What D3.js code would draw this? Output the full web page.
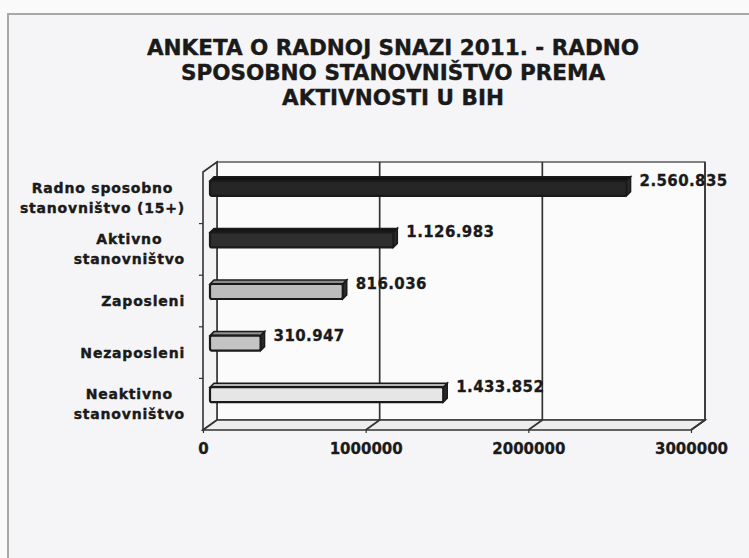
<!DOCTYPE html>
<html>
<head>
<meta charset="utf-8">
<script src="https://cdn.jsdelivr.net/npm/d3@7"></script>
<style>
  body { margin: 0; background: #fafafa; }
  text { font-family: "DejaVu Sans", Arial, sans-serif; font-weight: bold; fill: #1a1a1a; }
</style>
</head>
<body>
<div id="chart"></div>
<script>
// data
var categories = ["Radno sposobno\nstanovništvo (15+)", "Aktivno\nstanovništvo", "Zaposleni", "Nezaposleni", "Neaktivno\nstanovništvo"];
var values = [2560835, 1126983, 816036, 310947, 1433852];
var valueLabels = ["2.560.835", "1.126.983", "816.036", "310.947", "1.433.852"];
var ticks = [0, 1000000, 2000000, 3000000];
var titleLines = ["ANKETA O RADNOJ SNAZI 2011. - RADNO", "SPOSOBNO STANOVNIŠTVO PREMA", "AKTIVNOSTI U BIH"];

var barColors = ["#262626", "#2e2e2e", "#bdbdbd", "#c4c4c4", "#e6e6e6"];
var barTops = ["#111", "#151515", "#8c8c8c", "#909090", "#b5b5b5"];

var W = 749, H = 558;
var svg = d3.select("#chart").append("svg").attr("width", W).attr("height", H);

// frame
svg.append("rect").attr("x", 0).attr("y", 0).attr("width", W).attr("height", H).style("fill", "#fafafa");
svg.append("rect").attr("x", 8).attr("y", 14).attr("width", W).attr("height", H)
  .style("fill", "#f5f5f7").style("stroke", "#a8a8a8").style("stroke-width", 2);

// title
svg.append("g").selectAll("text").data(titleLines).enter().append("text")
  .attr("x", 393).attr("y", function(d, i){ return 55 + i * 25; })
  .attr("text-anchor", "middle").style("font-size", "21.5px").style("stroke", "#1a1a1a").style("stroke-width", 0.4)
  .text(function(d){ return d; });

// 3d box geometry
var dx = 14, dy = 10;
var back = {left: 217, right: 705, top: 162, bottom: 420};
var x = d3.scaleLinear().domain([0, 3000000]).range([back.left, back.right]);
var xBar = d3.scaleLinear().domain([0, 3000000]).range([back.left - 7, back.right - 7]);
var y = d3.scaleBand().domain(categories).range([back.top, back.bottom]);
var yFront = d3.scaleBand().domain(categories).range([back.top + dy, back.bottom + dy]);

var line = "#333";
var g = svg.append("g");
// walls
g.append("rect").attr("x", back.left).attr("y", back.top)
  .attr("width", back.right - back.left).attr("height", back.bottom - back.top)
  .style("fill", "#fbfbfb").style("stroke", line).style("stroke-width", 1.2);
g.append("path")
  .attr("d", "M" + back.left + "," + back.top + "L" + (back.left - dx) + "," + (back.top + dy) +
    "L" + (back.left - dx) + "," + (back.bottom + dy) + "L" + back.left + "," + back.bottom + "Z")
  .style("fill", "#f3f3f3").style("stroke", line).style("stroke-width", 1.6);
g.append("path")
  .attr("d", "M" + back.left + "," + back.bottom + "L" + back.right + "," + back.bottom +
    "L" + (back.right - dx) + "," + (back.bottom + dy) + "L" + (back.left - dx) + "," + (back.bottom + dy) + "Z")
  .style("fill", "#eeeeee").style("stroke", line).style("stroke-width", 1.6);

// gridlines: back wall + floor
ticks.slice(1).forEach(function(t){
  g.append("path")
    .attr("d", "M" + x(t) + "," + back.top + "L" + x(t) + "," + back.bottom +
      "L" + (x(t) - dx) + "," + (back.bottom + dy))
    .style("fill", "none").style("stroke", line).style("stroke-width", 1.7);
});

// x axis labels + small ticks at front edge
var axisG = svg.append("g").attr("transform", "translate(" + (-dx) + "," + (back.bottom + dy) + ")");
var xAxis = d3.axisBottom(x).tickValues(ticks).tickSize(3).tickPadding(10)
  .tickFormat(d3.format("d"));
axisG.call(xAxis);
axisG.select(".domain").remove();
axisG.selectAll(".tick line").style("stroke", line).style("stroke-width", 1.2);
axisG.selectAll(".tick text").style("font-size", "15px").style("font-family", "DejaVu Sans, Arial, sans-serif")
  .style("font-weight", "bold").style("fill", "#1a1a1a").style("stroke", "#1a1a1a").style("stroke-width", 0.3);

// left ticks between categories on front edge
var bounds = categories.slice(1).map(function(c){ return yFront(c); });
svg.append("g").selectAll("line").data(bounds).enter().append("line")
  .attr("x1", back.left - dx - 4).attr("x2", back.left - dx)
  .attr("y1", function(d){ return d; }).attr("y2", function(d){ return d; })
  .style("stroke", line).style("stroke-width", 1.2);

// bars (3d)
var bh = 15, bd = 4;
var bars = svg.append("g").selectAll("g").data(categories).enter().append("g");
bars.each(function(c, i){
  var sel = d3.select(this);
  var cy = y(c) + y.bandwidth() / 2 - 1;
  var x0 = xBar(0), x1 = xBar(values[i]);
  var yt = cy - 6, yb = yt + bh;
  // top face
  sel.append("path")
    .attr("d", "M" + x0 + "," + yt + "L" + (x0 + bd) + "," + (yt - bd) + "L" + (x1 + bd) + "," + (yt - bd) + "L" + x1 + "," + yt + "Z")
    .style("fill", barTops[i]).style("stroke", "#1a1a1a").style("stroke-width", 1.5);
  // end cap
  sel.append("path")
    .attr("d", "M" + x1 + "," + yt + "L" + (x1 + bd) + "," + (yt - bd) + "L" + (x1 + bd) + "," + (yb - bd) + "L" + x1 + "," + yb + "Z")
    .style("fill", "#2a2a2a").style("stroke", "#1a1a1a").style("stroke-width", 1.5);
  // front face
  sel.append("rect").attr("x", x0).attr("y", yt).attr("width", x1 - x0).attr("height", bh)
    .attr("rx", 2)
    .style("fill", barColors[i]).style("stroke", "#1a1a1a").style("stroke-width", 2.2);
  // value label
  sel.append("text").attr("x", x1 + 13).attr("y", cy - 1)
    .style("font-size", "15px").style("letter-spacing", "0.4px")
    .style("stroke", "#1a1a1a").style("stroke-width", 0.3)
    .text(valueLabels[i]);
});

// category labels, lines centred in a right-aligned block
var labelRight = 185;
categories.forEach(function(c){
  var lines = c.split("\n");
  var cy = yFront(c) + yFront.bandwidth() / 2;
  var t = svg.append("text").style("font-size", "14px").style("letter-spacing", "0.8px")
    .style("stroke", "#1a1a1a").style("stroke-width", 0.4);
  var spans = t.selectAll("tspan").data(lines).enter().append("tspan").text(function(d){ return d; });
  var widths = [];
  spans.each(function(){ widths.push(this.getComputedTextLength()); });
  var maxW = d3.max(widths);
  var cx = labelRight - maxW / 2;
  spans.attr("x", cx).attr("text-anchor", "middle")
    .attr("y", function(d, i){ return cy + 5 + (i - (lines.length - 1) / 2) * 20; });
});
</script>
</body>
</html>
